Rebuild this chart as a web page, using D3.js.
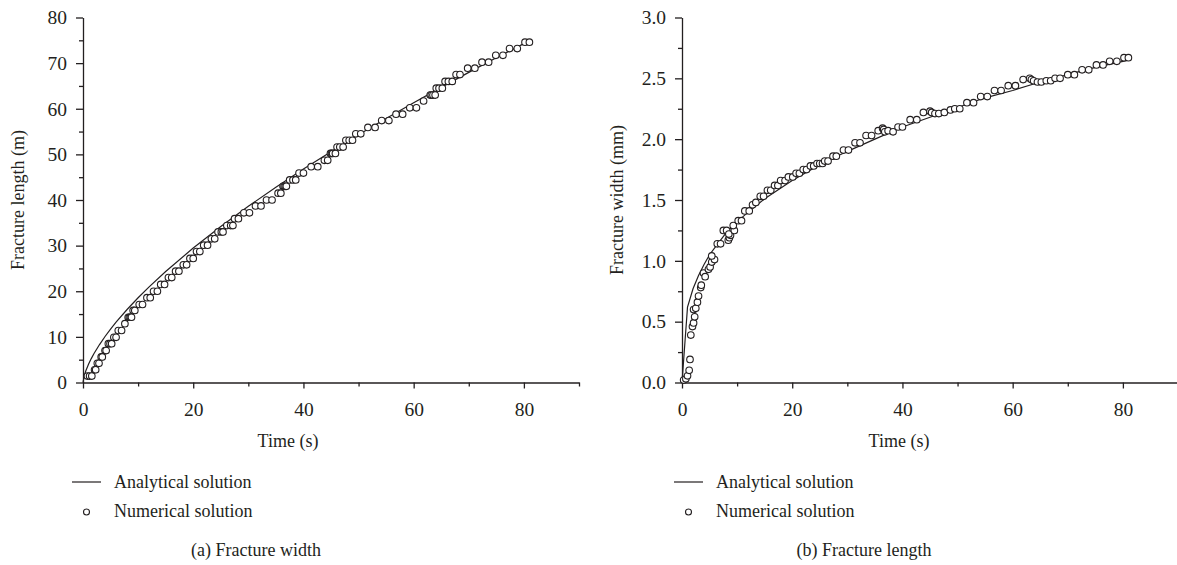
<!DOCTYPE html>
<html>
<head>
<meta charset="utf-8">
<script src="https://cdn.jsdelivr.net/npm/d3@7"></script>
<style>
  body { margin: 0; background: #fff; }
  svg { display: block; font-family: "Liberation Serif", "Times New Roman", serif; }
  .axis path, .axis line { stroke: #231f20; stroke-width: 1.3; }
  .axis text { font-size: 19.5px; fill: #231f20; font-family: "Liberation Serif", serif; }
  .lbl { font-size: 18px; fill: #231f20; }
</style>
</head>
<body>
<svg id="chart" width="1177" height="565"></svg>
<script>
// time axis ticks (both panels)
var timeTicks = [0, 20, 40, 60, 80];
var timeMinor = [10, 30, 50, 70, 90];

// (a) panel: fracture length
var lengthTicks = [0, 10, 20, 30, 40, 50, 60, 70, 80];
var lengthMinor = [5, 15, 25, 35, 45, 55, 65, 75];
var lengthLineTime = [0, 0.25, 0.5, 1, 1.5, 2, 3, 4, 5, 6, 8, 10, 12, 15, 20, 25, 30, 35, 40, 45, 50, 55, 60, 65, 70, 75, 80, 81];
var lengthLine = [0, 1.59, 2.52, 4.0, 5.24, 6.35, 8.32, 10.08, 11.7, 13.21, 16.0, 18.57, 20.96, 24.33, 29.47, 34.2, 38.62, 42.8, 46.78, 50.6, 54.29, 57.86, 61.31, 64.69, 67.97, 71.17, 74.27, 74.89];
var lengthNumTime = [0.8, 1.2, 1.6, 2.1, 2.3, 2.6, 2.9, 3.3, 3.5, 4.0, 4.2, 4.6, 4.9, 5.2, 5.6, 6.0, 6.4, 7.0, 7.6,
  8.2, 8.4, 8.6, 8.8, 9.1, 9.4, 10.2, 10.8, 11.6, 12.2, 12.8, 13.5, 14.1, 14.8, 15.5, 16.1, 16.8, 17.4, 18.2, 18.8,
  19.4, 20.0, 20.6, 21.2, 21.9, 22.6, 23.3, 23.9, 24.5, 25.1, 25.4, 26.1, 26.8, 27.2, 27.5, 28.2, 29.2, 30.2, 31.3, 32.3,
  33.3, 34.3, 35.4, 35.9, 36.3, 36.5, 36.7, 36.9, 37.5, 38.1, 38.6, 39.2, 40.0, 41.4, 42.6, 43.8, 44.4,
  44.9, 45.1, 45.3, 45.8, 46.1, 46.6, 47.2, 47.7, 48.3, 48.9, 49.5, 50.4, 51.7, 53.0, 54.2, 55.5, 56.8, 58.0,
  59.3, 60.5, 61.8, 63.0, 63.2, 63.5, 63.9, 64.1, 64.6, 65.2, 65.7, 66.3, 67.0, 67.7, 68.4, 69.8, 71.1,
  72.4, 73.6, 74.9, 76.2, 77.4, 78.8, 80.2, 81.0];
var lengthNum = [1.4, 1.4, 1.4, 2.8, 2.8, 4.2, 4.2, 5.6, 5.6, 7.0, 7.0, 8.5, 8.5, 8.5, 9.9, 9.9, 11.4, 11.4, 12.9,
  14.3, 14.3, 14.3, 14.3, 15.8, 15.8, 17.1, 17.1, 18.6, 18.6, 20.0, 20.0, 21.5, 21.5, 23.0, 23.0, 24.4, 24.4, 25.8, 25.8,
  27.2, 27.2, 28.7, 28.7, 30.1, 30.1, 31.5, 31.5, 33.0, 33.0, 33.0, 34.4, 34.4, 34.4, 35.9, 35.9, 37.2, 37.2, 38.7, 38.7,
  40.0, 40.0, 41.5, 41.5, 43.0, 43.0, 43.0, 43.0, 44.4, 44.4, 44.4, 45.9, 45.9, 47.3, 47.3, 48.7, 48.7,
  50.2, 50.2, 50.2, 50.2, 51.6, 51.6, 51.6, 53.1, 53.1, 53.1, 54.5, 54.5, 55.9, 55.9, 57.4, 57.4, 58.8, 58.8,
  60.2, 60.2, 61.7, 63.0, 63.0, 63.0, 63.0, 64.5, 64.5, 64.5, 66.0, 66.0, 66.0, 67.5, 67.5, 68.9, 68.9,
  70.2, 70.2, 71.7, 71.7, 73.2, 73.2, 74.6, 74.6];

// (b) panel: fracture width
var widthTicks = [0, 0.5, 1.0, 1.5, 2.0, 2.5, 3.0];
var widthMinor = [0.25, 0.75, 1.25, 1.75, 2.25, 2.75];
var widthLineTime = [0, 1, 2, 3, 4, 5, 6, 8, 10, 12, 15, 20, 25, 30, 35, 40, 45, 50, 55, 60, 65, 70, 75, 80, 81];
var widthLine = [0, 0.62, 0.77, 0.88, 0.97, 1.05, 1.11, 1.23, 1.32, 1.40, 1.51, 1.66, 1.79, 1.90, 2.00, 2.10, 2.18, 2.26, 2.34, 2.40, 2.47, 2.53, 2.59, 2.64, 2.65];
var widthNumTime = [0.3, 0.7, 1.0, 1.3, 1.45, 1.6, 1.9, 2.1, 2.3, 2.1, 2.5, 2.8, 3.0, 3.4, 3.5, 3.9, 4.2, 4.8, 5.1, 5.4, 5.9, 5.4,
  6.4, 7.0, 7.5, 8.1, 8.4, 8.6, 8.8, 8.5, 9.5, 9.3, 10.2, 10.8, 11.4, 12.2, 12.8, 13.4, 14.2, 14.8, 15.5, 16.1,
  16.8, 17.4, 17.9, 18.7, 19.3, 20.1, 20.7, 21.3, 22.0, 22.6, 23.3, 23.9, 24.5, 25.0, 25.5, 25.9, 26.5, 27.4, 28.0,
  29.3, 30.2, 31.4, 32.3, 33.4, 34.4, 35.6, 36.4, 36.6, 36.8, 37.4, 38.3, 39.2, 40.0, 41.4, 42.6, 43.8,
  45.0, 45.3, 45.9, 46.6, 47.6, 48.7, 49.5, 50.4, 51.7, 52.9, 54.2, 55.4, 56.7, 57.9, 59.2, 60.5, 61.9,
  63.1, 63.4, 63.8, 64.5, 65.2, 66.1, 66.9, 67.7, 68.6, 70.0, 71.2, 72.6, 73.8, 75.2, 76.4, 77.6, 78.9, 80.2, 81.0];
var widthNum = [0.02, 0.03, 0.055, 0.10, 0.19, 0.39, 0.46, 0.49, 0.54, 0.60, 0.61, 0.66, 0.71, 0.78, 0.80, 0.90, 0.87, 0.93, 0.95, 0.99, 1.01, 1.04,
  1.14, 1.14, 1.25, 1.25, 1.17, 1.19, 1.21, 1.22, 1.25, 1.29, 1.33, 1.33, 1.41, 1.41, 1.46, 1.48, 1.53, 1.53, 1.58, 1.58,
  1.62, 1.62, 1.66, 1.66, 1.69, 1.69, 1.72, 1.72, 1.75, 1.75, 1.78, 1.78, 1.80, 1.80, 1.80, 1.82, 1.82, 1.86, 1.86,
  1.91, 1.91, 1.97, 1.97, 2.03, 2.03, 2.07, 2.09, 2.08, 2.06, 2.07, 2.06, 2.10, 2.10, 2.16, 2.16, 2.22,
  2.23, 2.22, 2.21, 2.21, 2.22, 2.24, 2.25, 2.25, 2.30, 2.30, 2.35, 2.35, 2.40, 2.40, 2.44, 2.44, 2.49,
  2.50, 2.49, 2.48, 2.47, 2.47, 2.48, 2.48, 2.50, 2.50, 2.53, 2.53, 2.57, 2.57, 2.61, 2.61, 2.64, 2.64, 2.67, 2.67];

var svg = d3.select("#chart");
var ink = "#231f20";

function panel(opt) {
  var x = d3.scaleLinear().domain([0, 90]).range([opt.left, opt.left + 496]);
  var y = d3.scaleLinear().domain(opt.yDomain).range([382.5, 17.5]);
  var g = svg.append("g");

  // minor ticks first, then the major axis on top
  g.append("g").attr("class", "axis").attr("transform", "translate(0,382.5)")
    .call(d3.axisBottom(x).tickValues(timeMinor).tickSize(4).tickFormat(""))
    .select(".domain").remove();
  g.append("g").attr("class", "axis").attr("transform", "translate(0,382.5)")
    .call(d3.axisBottom(x).tickValues(timeTicks).tickSize(6).tickSizeOuter(0).tickPadding(14));
  g.append("g").attr("class", "axis").attr("transform", "translate(" + opt.left + ",0)")
    .call(d3.axisLeft(y).tickValues(opt.yMinor).tickSize(4).tickFormat(""))
    .select(".domain").remove();
  g.append("g").attr("class", "axis").attr("transform", "translate(" + opt.left + ",0)")
    .call(d3.axisLeft(y).tickValues(opt.yTicks).tickSize(7).tickSizeOuter(0).tickPadding(9).tickFormat(opt.fmt));

  var line = d3.line().x(function(d) { return x(d[0]); }).y(function(d) { return y(d[1]); });
  g.append("path")
    .datum(d3.zip(opt.lineT, opt.lineV))
    .attr("d", line)
    .attr("fill", "none").attr("stroke", ink).attr("stroke-width", 1.2);

  g.selectAll("circle.num").data(d3.zip(opt.numT, opt.numV)).enter().append("circle")
    .attr("class", "num")
    .attr("cx", function(d) { return x(d[0]); })
    .attr("cy", function(d) { return y(d[1]); })
    .attr("r", 3.3)
    .attr("fill", "#fff").attr("stroke", ink).attr("stroke-width", 1.1);

  // axis titles
  g.append("text").attr("class", "lbl").attr("x", opt.xTitle).attr("y", 447)
    .attr("text-anchor", "middle").text("Time (s)");
  g.append("text").attr("class", "lbl").attr("text-anchor", "middle")
    .attr("transform", "translate(" + opt.yTitleX + ",200) rotate(-90)").text(opt.yTitle);

  // legend
  var lx = opt.legendX;
  g.append("line").attr("x1", lx).attr("x2", lx + 29).attr("y1", 482).attr("y2", 482)
    .attr("stroke", ink).attr("stroke-width", 1.2);
  g.append("circle").attr("cx", lx + 14.5).attr("cy", 512).attr("r", 3)
    .attr("fill", "#fff").attr("stroke", ink).attr("stroke-width", 1.1);
  g.append("text").attr("class", "lbl").attr("x", lx + 42).attr("y", 488).text("Analytical solution");
  g.append("text").attr("class", "lbl").attr("x", lx + 42).attr("y", 517).text("Numerical solution");

  g.append("text").attr("class", "lbl").attr("x", opt.caption).attr("y", 556)
    .attr("text-anchor", "middle").text(opt.captionText);
}

panel({
  left: 83, yDomain: [0, 80], yTicks: lengthTicks, yMinor: lengthMinor, fmt: d3.format("d"),
  lineT: lengthLineTime, lineV: lengthLine, numT: lengthNumTime, numV: lengthNum,
  xTitle: 288, yTitleX: 24, yTitle: "Fracture length (m)",
  legendX: 72, caption: 256, captionText: "(a) Fracture width"
});

panel({
  left: 682, yDomain: [0, 3], yTicks: widthTicks, yMinor: widthMinor, fmt: d3.format(".1f"),
  lineT: widthLineTime, lineV: widthLine, numT: widthNumTime, numV: widthNum,
  xTitle: 899, yTitleX: 623, yTitle: "Fracture width (mm)",
  legendX: 674, caption: 864, captionText: "(b) Fracture length"
});
</script>
</body>
</html>
